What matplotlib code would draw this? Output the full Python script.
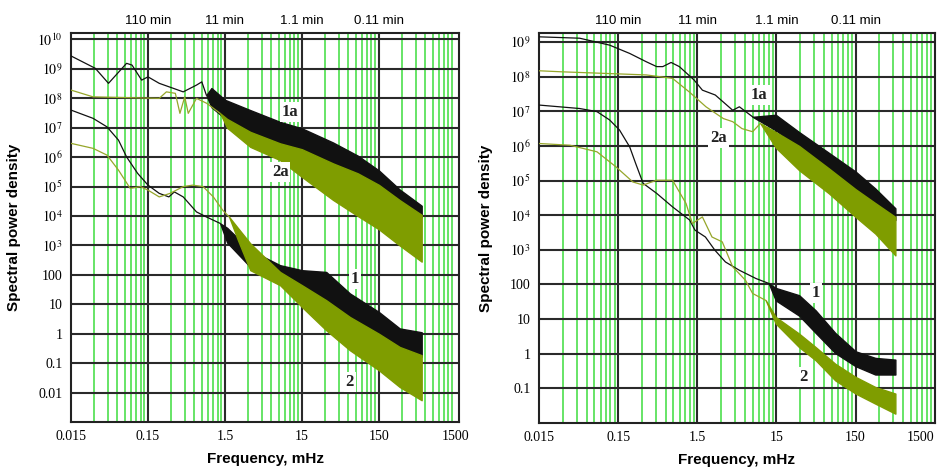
import numpy as np
import matplotlib
matplotlib.use('Agg')
import matplotlib.pyplot as plt
from matplotlib.ticker import FixedLocator, FixedFormatter, NullLocator

plt.rcParams['mathtext.fontset'] = 'stix'

# ---- data (frequency in mHz, spectral density as log10) ----
# left panel
L_1a_line_f = [0.015, 0.031, 0.046, 0.079, 0.093, 0.124, 0.15, 0.21, 0.32, 0.43, 0.64, 0.75, 0.86]
L_1a_line_lg = [9.44, 9.02, 8.51, 9.19, 9.13, 8.62, 8.73, 8.51, 8.34, 8.22, 8.45, 8.56, 8.11]
L_1a_band_f = [0.86, 1.0, 1.5, 3.2, 7.8, 15, 38, 80, 150, 280, 540]
L_1a_band_hi = [8.11, 8.35, 7.95, 7.6, 7.2, 6.98, 6.5, 6.05, 5.55, 4.9, 4.35]
L_1a_band_lo = [8.11, 7.7, 7.32, 6.86, 6.47, 6.24, 5.7, 5.3, 4.9, 4.35, 3.95]

L_2a_line_f = [0.015, 0.029, 0.21, 0.26, 0.34, 0.39, 0.45, 0.50, 0.64, 0.87, 1.3]
L_2a_line_lg = [8.28, 8.05, 8.0, 8.22, 8.17, 7.49, 8.05, 7.49, 8.0, 7.83, 7.49]
L_2a_band_f = [1.3, 1.6, 3.2, 7.8, 15, 38, 80, 150, 280, 540]
L_2a_band_hi = [7.49, 7.3, 6.86, 6.47, 6.27, 5.79, 5.45, 5.06, 4.54, 4.04]
L_2a_band_lo = [7.49, 7.0, 6.35, 5.9, 5.33, 4.55, 4.0, 3.55, 3.0, 2.45]

L_1_line_f = [0.015, 0.029, 0.044, 0.062, 0.079, 0.11, 0.15, 0.21, 0.28, 0.33, 0.43, 0.64, 0.86, 1.3]
L_1_line_lg = [7.60, 7.32, 7.03, 6.58, 6.01, 5.45, 5.05, 4.77, 4.65, 4.82, 4.65, 4.14, 3.97, 3.75]
L_1_band_f = [1.3, 1.6, 3.2, 7.8, 15, 31, 63, 150, 280, 540]
L_1_band_hi = [3.75, 3.6, 2.84, 2.33, 2.16, 2.10, 1.37, 0.74, 0.18, 0.05]
L_1_band_lo = [3.75, 3.1, 2.27, 1.88, 1.54, 1.1, 0.46, -0.11, -0.56, -0.78]

L_2_line_f = [0.015, 0.029, 0.044, 0.062, 0.088, 0.12, 0.15, 0.21, 0.29, 0.43, 0.57, 0.78, 1.06, 1.4, 1.7]
L_2_line_lg = [6.47, 6.30, 6.07, 5.56, 4.94, 5.0, 4.88, 4.65, 4.77, 5.0, 5.05, 5.0, 4.65, 4.20, 3.97]
L_2_band_f = [1.7, 2.2, 3.2, 7.8, 15, 31, 63, 150, 280, 540]
L_2_band_hi = [3.97, 3.6, 3.07, 2.10, 1.65, 1.14, 0.57, 0.0, -0.45, -0.73]
L_2_band_lo = [3.97, 3.2, 2.16, 1.65, 0.91, 0.12, -0.56, -1.24, -1.81, -2.26]

# right panel
R_1a_line_f = [0.015, 0.049, 0.117, 0.21, 0.34, 0.46, 0.55, 0.70, 0.89, 1.37, 1.74, 2.53, 4.2, 5.1, 7.5]
R_1a_line_lg = [9.15, 9.11, 8.91, 8.67, 8.43, 8.29, 8.29, 8.41, 8.29, 7.90, 7.61, 7.47, 7.03, 7.13, 6.84]
R_1a_band_f = [7.5, 14.7, 29, 69, 150, 266, 477]
R_1a_band_hi = [6.84, 6.9, 6.4, 5.8, 5.26, 4.77, 4.2]
R_1a_band_lo = [6.84, 6.45, 5.95, 5.35, 4.75, 4.3, 3.86]

R_2a_line_f = [0.015, 0.029, 0.34, 0.73, 1.2, 1.93, 3.2, 4.2, 5.5, 7.5, 9.4]
R_2a_line_lg = [8.17, 8.14, 8.05, 7.95, 7.55, 7.13, 6.79, 6.7, 6.5, 6.41, 6.65]
R_2a_band_f = [9.4, 14.7, 29, 69, 150, 266, 477]
R_2a_band_hi = [6.65, 6.4, 6.0, 5.35, 4.75, 4.35, 3.95]
R_2a_band_lo = [6.65, 5.95, 5.3, 4.63, 3.95, 3.47, 2.84]

R_1_line_f = [0.015, 0.049, 0.081, 0.117, 0.156, 0.21, 0.25, 0.31, 0.46, 0.73, 1.2, 1.4, 1.9, 2.5, 3.4, 5.1, 8.3, 12]
R_1_line_lg = [7.18, 7.08, 6.99, 6.75, 6.46, 5.97, 5.49, 4.92, 4.63, 4.24, 3.86, 3.57, 3.37, 2.99, 2.65, 2.41, 2.17, 2.03]
R_1_band_f = [12, 14.7, 29, 47, 83, 150, 266, 477]
R_1_band_hi = [2.03, 1.9, 1.69, 1.25, 0.6, 0.07, -0.12, -0.17]
R_1_band_lo = [2.03, 1.54, 1.1, 0.6, 0.02, -0.36, -0.6, -0.6]

R_2_line_f = [0.015, 0.037, 0.081, 0.14, 0.23, 0.31, 0.46, 0.73, 1.08, 1.3, 1.74, 2.3, 3.1, 4.2, 6.1, 7.5, 11]
R_2_line_lg = [6.07, 6.02, 5.83, 5.40, 4.96, 4.87, 5.01, 5.01, 4.34, 3.76, 3.95, 3.37, 3.23, 2.51, 2.12, 1.74, 1.54]
R_2_band_f = [11, 14.7, 29, 47, 83, 150, 266, 477]
R_2_band_hi = [1.54, 1.06, 0.58, 0.19, -0.29, -0.67, -0.96, -1.15]
R_2_band_lo = [1.54, 0.87, 0.19, -0.19, -0.77, -1.15, -1.44, -1.73]

# curve labels (text, frequency, log10 value)
L_labels = [('1a', 10.5, 7.54), ('2a', 7.8, 5.5), ('1', 73, 1.85), ('2', 63, -1.64)]
R_labels = [('1a', 9.1, 7.47), ('2a', 2.8, 6.22), ('1', 47, 1.74), ('2', 33, -0.67)]

x_major = [0.015, 0.15, 1.5, 15, 150, 1500]
x_labels = ['0.015', '0.15', '1.5', '15', '150', '1500']
top_ticks = [0.15, 1.5, 15, 150]
top_labels = ['110 min', '11 min', '1.1 min', '0.11 min']

BLACK = '#111111'
OLIVE_LINE = '#96a62a'
OLIVE_BAND = '#7f9d00'
GRID_GREEN = '#3ddc3d'


def ylabels_for(exps):
    out = []
    for e in exps:
        if e >= 3:
            out.append('$10^{%d}$' % e)
        elif e >= 0:
            out.append('%d' % 10 ** e)
        else:
            out.append(('%.' + str(-e) + 'f') % 10.0 ** e)
    return out


def draw_panel(ax, series, labels, ylim, yexps, xmax):
    ax.set_xscale('log')
    ax.set_yscale('log')
    ax.set_xlim(0.015, xmax)
    ax.set_ylim(*ylim)

    # green minor verticals at 0.015 * k * 10^n
    for n in range(5):
        for k in range(2, 10):
            xv = 0.015 * k * 10 ** n
            if xv < xmax:
                ax.axvline(xv, color=GRID_GREEN, lw=1.1, zorder=1)
    for xv in x_major[1:5]:
        ax.axvline(xv, color='#2a2a2a', lw=1.5, zorder=1.5)
    for e in range(-3, 11):
        if ylim[0] < 10.0 ** e < ylim[1]:
            ax.axhline(10.0 ** e, color='#2a2a2a', lw=1.5, zorder=1.5)

    for (lf, llg, bf, bhi, blo, c_line, c_band) in series:
        ax.plot(lf, 10 ** np.array(llg), color=c_line, lw=0.9, zorder=3)
        ax.fill_between(bf, 10 ** np.array(blo), 10 ** np.array(bhi),
                        color=c_band, lw=1.0, edgecolor=c_band, zorder=3)

    for txt, fx, lg in labels:
        ax.text(fx, 10 ** lg, txt, fontsize=12, fontweight='bold', family='Liberation Serif',
                ha='center', va='center', zorder=5, color='#222222',
                bbox=dict(facecolor='white', edgecolor='none', pad=1.5))

    ax.xaxis.set_major_locator(FixedLocator(x_major))
    ax.xaxis.set_major_formatter(FixedFormatter(x_labels))
    ax.xaxis.set_minor_locator(NullLocator())
    ax.yaxis.set_major_locator(FixedLocator([10.0 ** e for e in yexps]))
    ax.yaxis.set_major_formatter(FixedFormatter(ylabels_for(yexps)))
    ax.yaxis.set_minor_locator(NullLocator())
    ax.tick_params(length=0, labelsize=10, pad=6)
    for lab in ax.get_xticklabels() + ax.get_yticklabels():
        lab.set_family('Liberation Serif')
    for s in ax.spines.values():
        s.set_linewidth(1.5)
        s.set_color('#222222')

    top = ax.twiny()
    top.set_xscale('log')
    top.set_xlim(ax.get_xlim())
    top.xaxis.set_major_locator(FixedLocator(top_ticks))
    top.xaxis.set_major_formatter(FixedFormatter(top_labels))
    top.xaxis.set_minor_locator(NullLocator())
    top.tick_params(length=0, labelsize=9.5, pad=4)
    for lab in top.get_xticklabels():
        lab.set_family('Liberation Sans')
    top.spines[:].set_visible(False)

    ax.set_xlabel('Frequency, mHz', fontsize=11, family='Liberation Sans', fontweight='bold')
    ax.set_ylabel('Spectral power density', fontsize=11, family='Liberation Sans', fontweight='bold')


fig = plt.figure(figsize=(9.41, 4.73), dpi=100)
ax1 = fig.add_axes([0.0755, 0.1078, 0.4123, 0.8224])
ax2 = fig.add_axes([0.5728, 0.1057, 0.4208, 0.8245])

left_series = [
    (L_1a_line_f, L_1a_line_lg, L_1a_band_f, L_1a_band_hi, L_1a_band_lo, BLACK, BLACK),
    (L_1_line_f, L_1_line_lg, L_1_band_f, L_1_band_hi, L_1_band_lo, BLACK, BLACK),
    (L_2a_line_f, L_2a_line_lg, L_2a_band_f, L_2a_band_hi, L_2a_band_lo, OLIVE_LINE, OLIVE_BAND),
    (L_2_line_f, L_2_line_lg, L_2_band_f, L_2_band_hi, L_2_band_lo, OLIVE_LINE, OLIVE_BAND),
]
right_series = [
    (R_1a_line_f, R_1a_line_lg, R_1a_band_f, R_1a_band_hi, R_1a_band_lo, BLACK, BLACK),
    (R_1_line_f, R_1_line_lg, R_1_band_f, R_1_band_hi, R_1_band_lo, BLACK, BLACK),
    (R_2a_line_f, R_2a_line_lg, R_2a_band_f, R_2a_band_hi, R_2a_band_lo, OLIVE_LINE, OLIVE_BAND),
    (R_2_line_f, R_2_line_lg, R_2_band_f, R_2_band_hi, R_2_band_lo, OLIVE_LINE, OLIVE_BAND),
]

draw_panel(ax1, left_series, L_labels, (1e-3, 10 ** 10.22), list(range(10, 2, -1)) + [2, 1, 0, -1, -2], 1650)
draw_panel(ax2, right_series, R_labels, (1e-2, 10 ** 9.26), list(range(9, 2, -1)) + [2, 1, 0, -1], 1510)

# the last label on the right panel sits at the figure edge
ax2.get_xticklabels()[-1].set_horizontalalignment('right')

ax1.yaxis.set_label_coords(-0.13, 0.5)
ax1.xaxis.set_label_coords(0.5, -0.078)
ax2.yaxis.set_label_coords(-0.116, 0.5)
ax2.xaxis.set_label_coords(0.5, -0.078)

fig.savefig('out.png', dpi=100)
